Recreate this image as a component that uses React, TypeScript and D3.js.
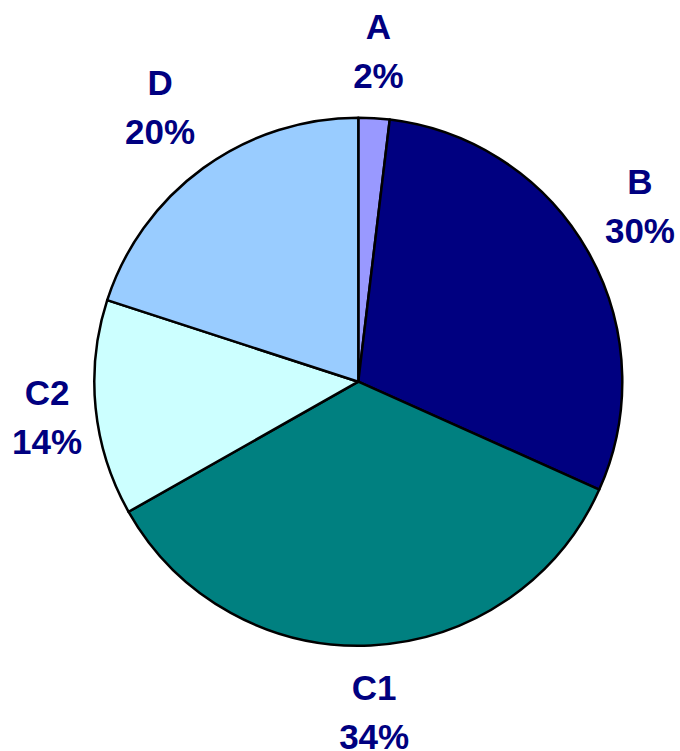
import React from "react";
import * as d3 from "d3";

// slice names and shares, clockwise from 12 o'clock
const categories = ["A", "B", "C1", "C2", "D"];
const shares = [1.9, 29.8, 35.1, 13.2, 20.0];
// percentages as printed on the chart
const pctLabels = ["2%", "30%", "34%", "14%", "20%"];
const sliceColors = ["#9999FF", "#000080", "#008080", "#CCFFFF", "#99CCFF"];

const W = 680;
const H = 751;
const FONT = "'Liberation Sans', Arial, sans-serif";
const FONT_SIZE = 35;

// width of a text line, so labels can be kept inside the chart
function textWidth(t: string) {
  const ctx = document.createElement("canvas").getContext("2d");
  if (!ctx) return t.length * FONT_SIZE * 0.6;
  ctx.font = `bold ${FONT_SIZE}px ${FONT}`;
  return ctx.measureText(t).width;
}

export default function App() {
  const cx = 358.3;
  const cy = 381.7;
  const radius = 264;
  // label anchor ring and label box offsets (roughly excel's placement)
  const anchorR = 294;
  const padX = 26;
  const padY = 37;
  const ramp = 0.6;

  const pie = d3.pie<number>().sort(null).value((d) => d);
  const arcs = pie(shares);
  const arc = d3.arc<d3.PieArcDatum<number>>().innerRadius(0).outerRadius(radius);

  const soft = (v: number) => Math.sign(v) * Math.min(1, Math.abs(v) / ramp);

  return (
    <svg width={W} height={H} style={{ position: "absolute", left: 0, top: 0 }}>
      <rect width={W} height={H} fill="white" />
      {arcs.map((a, i) => (
        <path key={categories[i]} d={arc(a) || ""} fill={sliceColors[i]}
          transform={`translate(${cx},${cy})`}
          stroke="black" strokeWidth={2.5} strokeLinejoin="round" />
      ))}
      {arcs.map((a, i) => {
        const mid = (a.startAngle + a.endAngle) / 2;
        const s = Math.sin(mid);
        const c = Math.cos(mid);
        let x = cx + anchorR * s + padX * soft(s);
        const y = cy - anchorR * c - padY * soft(c);
        const half = Math.max(textWidth(categories[i]), textWidth(pctLabels[i])) / 2;
        x = Math.max(12 + half, Math.min(W - 5 - half, x));
        return (
          <text key={"l" + categories[i]} x={x} y={y} textAnchor="middle"
            fontFamily={FONT} fontWeight="bold" fontSize={FONT_SIZE} fill="#000080">
            <tspan x={x} dy={-12}>{categories[i]}</tspan>
            <tspan x={x} dy={49}>{pctLabels[i]}</tspan>
          </text>
        );
      })}
    </svg>
  );
}
